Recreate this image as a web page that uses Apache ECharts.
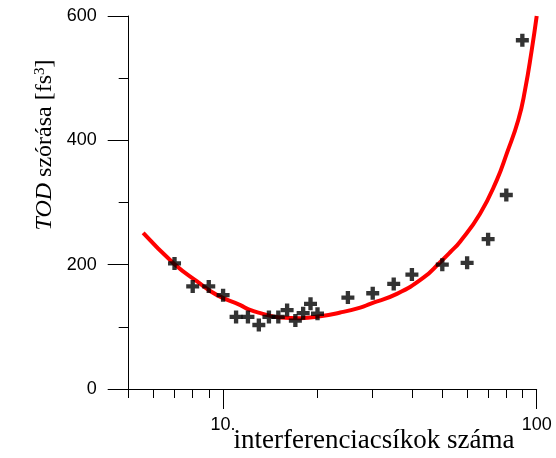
<!DOCTYPE html>
<html>
<head>
<meta charset="utf-8">
<script src="https://cdn.jsdelivr.net/npm/echarts@6/dist/echarts.min.js"></script>
<style>
  html, body { margin: 0; padding: 0; background: #fff; }
  #chart { width: 556px; height: 458px; }
</style>
</head>
<body>
<div id="chart"></div>
<script>
// Measured spread of the third-order dispersion vs. number of interference fringes
const fringeCounts = [7, 8, 9, 10, 11, 12, 13, 14, 15, 16, 17, 18, 19, 20, 25, 30, 35, 40, 50, 60, 70, 80, 90];
const todSpread = [202, 165, 165, 151, 116, 116, 103, 116, 116, 127, 110, 122, 137, 121, 147, 154, 169, 184, 200, 203, 241, 312, 561];

// Fitted trend curve
const fitX = [5.56, 6.96, 8.26, 9.57, 11.35, 12.06, 13.15, 15.22, 17.63, 20.41, 23.64, 27.37, 29.45, 35.82, 43.53, 49.2, 52.96, 56.97, 65.97, 74.6, 80.3, 87.4, 91.8, 96.4, 100];
const fitY = [251, 202, 173, 151, 135, 128, 122, 115, 114, 117, 123, 131, 137, 153, 179, 204, 220, 237, 282, 336, 379, 433, 481, 545, 600];

// Axis ticks
const xMajorTicks = [10, 100];
const xMinorTicks = [5, 6, 7, 8, 9, 20, 30, 40, 50, 60, 70, 80, 90];
const yMin = 0, yMax = 600, yStep = 200;

const axisColor = '#000';
const sansFont = 'Liberation Sans, Arial, sans-serif';
const serifFont = 'Liberation Serif, Times New Roman, serif';

const chart = echarts.init(document.getElementById('chart'), null, { renderer: 'canvas' });

const plusPath = 'path://M4,0H8V4H12V8H8V12H4V8H0V4H4Z';

chart.setOption({
  animation: false,
  backgroundColor: '#fff',
  grid: { left: 128.7, right: 19.3, top: 16, bottom: 69, containLabel: false },
  xAxis: [
    {
      type: 'log', logBase: 10, min: 5, max: 100,
      axisLine: { show: true, lineStyle: { color: axisColor, width: 1 } },
      axisTick: { show: true, length: 20, customValues: xMajorTicks, lineStyle: { color: axisColor } },
      axisLabel: {
        show: true, customValues: xMajorTicks, margin: 27,
        fontFamily: sansFont, fontSize: 18, color: '#000',
        formatter: v => (Math.round(v) === 10 ? '10.' : String(Math.round(v)))
      },
      splitLine: { show: false },
      minorTick: { show: false },
      minorSplitLine: { show: false }
    },
    {
      type: 'log', logBase: 10, min: 5, max: 100, position: 'bottom',
      axisLine: { show: false },
      axisTick: { show: true, length: 9, customValues: xMinorTicks, lineStyle: { color: axisColor } },
      axisLabel: { show: false },
      splitLine: { show: false }
    }
  ],
  yAxis: {
    type: 'value', min: yMin, max: yMax, interval: yStep,
    axisLine: { show: true, lineStyle: { color: axisColor, width: 1 } },
    axisTick: { show: true, length: 21, lineStyle: { color: axisColor } },
    minorTick: { show: true, splitNumber: 2, length: 10, lineStyle: { color: axisColor } },
    axisLabel: { margin: 32, fontFamily: sansFont, fontSize: 18, color: '#000' },
    splitLine: { show: false },
    minorSplitLine: { show: false }
  },
  series: [
    {
      type: 'line',
      xAxisIndex: 0,
      data: fitX.map((x, i) => [x, fitY[i]]),
      smooth: 0.5,
      showSymbol: false,
      lineStyle: { color: '#ff0000', width: 4 },
      z: 2
    },
    {
      type: 'scatter',
      xAxisIndex: 0,
      data: fringeCounts.map((x, i) => [x, todSpread[i]]),
      symbol: plusPath,
      symbolSize: 13,
      itemStyle: { color: '#000' },
      z: 3
    }
  ],
  graphic: [
    {
      type: 'text',
      x: 45, y: 145,
      rotation: Math.PI / 2,
      style: {
        text: '{i|TOD} szórása [fs{s|3}]',
        fontFamily: serifFont, fontSize: 24, fill: '#000',
        align: 'center', verticalAlign: 'middle',
        rich: {
          i: { fontFamily: serifFont, fontSize: 24, fontStyle: 'italic', fill: '#000' },
          s: { fontFamily: serifFont, fontSize: 15, verticalAlign: 'top', fill: '#000' }
        }
      }
    },
    {
      type: 'text',
      x: 374, y: 441,
      style: {
        text: 'interferenciacsíkok száma',
        fontFamily: serifFont, fontSize: 27, fill: '#000',
        align: 'center', verticalAlign: 'middle'
      }
    }
  ]
});
</script>
</body>
</html>
